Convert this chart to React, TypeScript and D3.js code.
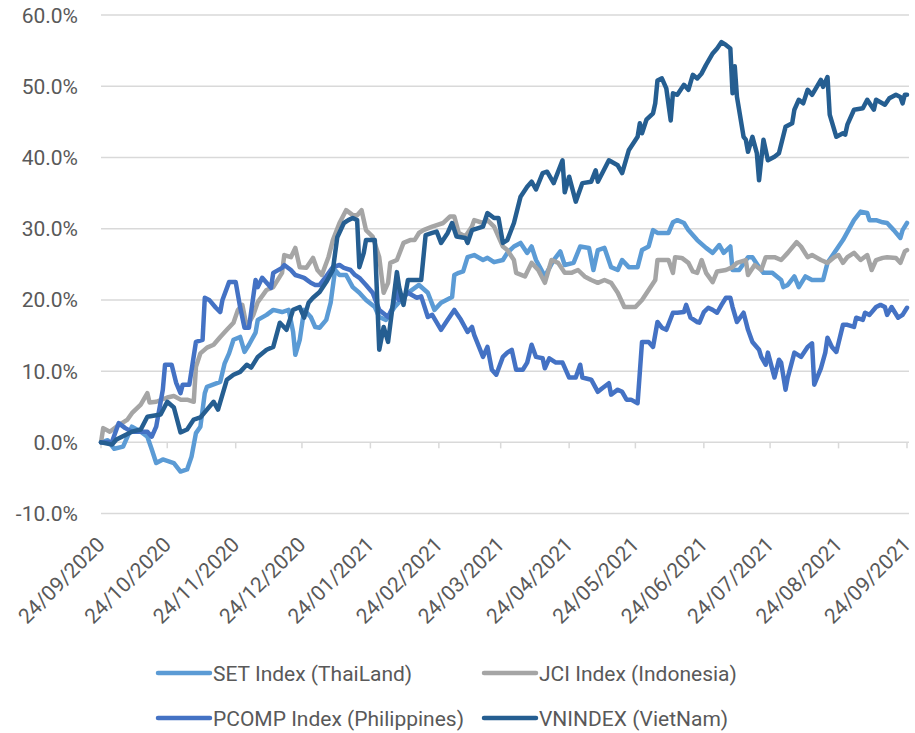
import React from 'react';
import * as d3 from 'd3';

// axis labels
const tickLabels = [
  '24/09/2020', '24/10/2020', '24/11/2020', '24/12/2020', '24/01/2021', '24/02/2021', '24/03/2021',
  '24/04/2021', '24/05/2021', '24/06/2021', '24/07/2021', '24/08/2021', '24/09/2021',
];
const yTicks = [-10, 0, 10, 20, 30, 40, 50, 60];

// days after 24/09/2020 and % change
const setDays = [0, 3, 6, 10, 14, 18, 21, 23, 25, 28, 33, 36, 39, 41, 43, 45, 47, 48, 54, 56, 58, 60, 63, 65, 67, 70, 71, 75, 78, 82, 85, 87, 88, 90, 92, 95, 97, 99, 102, 104, 106, 108, 111, 114, 117, 120, 124, 126, 129, 133, 139, 144, 148, 151, 154, 159, 160, 162, 164, 166, 169, 173, 175, 178, 182, 184, 187, 190, 193, 195, 197, 201, 205, 208, 210, 214, 217, 221, 223, 225, 228, 231, 234, 236, 239, 243, 245, 248, 250, 252, 257, 259, 261, 264, 266, 270, 274, 277, 280, 282, 285, 286, 289, 293, 295, 298, 300, 304, 308, 309, 311, 314, 316, 319, 322, 327, 329, 334, 336, 341, 344, 347, 348, 351, 354, 356, 359, 362, 363, 365];
const setValues = [0, 0.3, -0.9, -0.6, 2.2, 1.5, 0.8, -1.0, -2.9, -2.4, -2.9, -4.1, -3.8, -2.0, 1.3, 2.2, 6.9, 7.8, 8.5, 11.1, 12.5, 14.4, 14.8, 12.7, 13.7, 15.4, 17.2, 17.9, 18.6, 18.3, 18.6, 15.5, 12.3, 14.4, 18.6, 17.6, 16.2, 16.1, 17.2, 19.6, 24.2, 23.5, 23.5, 21.8, 21.0, 20.0, 19.0, 17.6, 17.2, 19.0, 21.0, 22.1, 21.0, 18.6, 19.6, 20.4, 23.5, 23.8, 24.0, 26.0, 26.3, 25.6, 25.9, 25.3, 25.6, 26.6, 27.5, 28.0, 26.6, 27.5, 25.6, 23.3, 25.6, 26.8, 24.9, 25.2, 27.5, 27.3, 24.2, 27.0, 27.3, 24.6, 24.2, 25.6, 24.6, 24.6, 27.0, 27.5, 29.8, 29.4, 29.4, 30.9, 31.2, 30.8, 29.8, 28.4, 27.3, 26.6, 27.7, 26.6, 27.5, 24.2, 24.2, 26.0, 26.0, 24.6, 23.8, 23.8, 22.8, 21.8, 22.1, 23.3, 21.8, 23.3, 22.8, 22.8, 25.2, 27.5, 28.4, 31.2, 32.4, 32.2, 31.2, 31.2, 30.9, 30.8, 29.8, 28.7, 29.8, 30.8];

const jciDays = [0, 1, 4, 7, 12, 14, 18, 21, 22, 25, 30, 33, 36, 39, 42, 43, 45, 48, 51, 54, 57, 60, 62, 64, 66, 69, 71, 75, 78, 82, 83, 86, 88, 90, 93, 96, 98, 100, 103, 105, 108, 111, 114, 116, 118, 120, 123, 126, 128, 130, 131, 134, 137, 140, 142, 144, 146, 150, 155, 158, 160, 162, 165, 168, 169, 173, 175, 178, 182, 184, 187, 188, 192, 195, 198, 201, 204, 207, 210, 213, 216, 219, 222, 225, 228, 231, 234, 237, 242, 245, 248, 251, 252, 257, 259, 260, 263, 266, 268, 270, 272, 274, 277, 279, 283, 286, 288, 292, 293, 296, 299, 301, 305, 308, 311, 315, 317, 320, 322, 326, 329, 332, 334, 336, 338, 341, 344, 347, 349, 351, 354, 356, 360, 362, 364, 365];
const jciValues = [0, 2.0, 1.5, 2.2, 3.2, 4.1, 5.3, 6.9, 5.6, 5.7, 6.3, 6.5, 6.0, 6.0, 5.7, 10.6, 12.5, 13.3, 13.7, 14.8, 15.8, 16.8, 18.6, 19.3, 16.2, 17.9, 19.7, 21.4, 21.8, 23.8, 26.3, 26.0, 27.3, 24.6, 24.5, 25.9, 24.2, 23.5, 26.0, 28.4, 30.8, 32.6, 31.9, 31.9, 32.6, 29.8, 28.9, 26.0, 21.0, 22.4, 25.2, 25.6, 28.0, 28.4, 28.4, 29.4, 29.8, 30.3, 30.8, 31.7, 31.7, 29.4, 28.9, 30.3, 31.2, 30.8, 31.2, 30.3, 27.5, 27.0, 25.6, 23.8, 23.3, 25.2, 24.2, 22.4, 25.6, 25.2, 23.8, 23.8, 24.2, 23.3, 22.8, 22.4, 22.8, 22.4, 21.0, 19.0, 19.0, 20.0, 21.4, 22.8, 25.6, 25.6, 23.8, 26.0, 25.9, 25.2, 24.0, 23.8, 25.6, 23.8, 22.5, 24.0, 24.2, 24.6, 25.2, 25.6, 23.5, 24.9, 24.2, 26.0, 26.0, 25.6, 26.6, 28.1, 27.5, 26.0, 26.3, 25.6, 25.2, 26.0, 26.3, 25.2, 26.0, 26.6, 25.6, 26.3, 24.2, 25.6, 25.9, 26.0, 25.9, 25.2, 26.8, 27.0];

const pcompDays = [0, 5, 8, 11, 14, 18, 21, 23, 25, 28, 29, 32, 34, 36, 37, 40, 43, 46, 47, 49, 52, 54, 55, 58, 61, 63, 65, 67, 70, 71, 73, 75, 77, 78, 82, 83, 86, 88, 90, 92, 95, 97, 99, 102, 105, 108, 110, 113, 115, 117, 120, 123, 126, 130, 132, 134, 135, 139, 143, 145, 148, 150, 154, 157, 160, 163, 166, 168, 169, 173, 175, 177, 179, 182, 184, 186, 188, 191, 193, 195, 197, 200, 201, 203, 206, 209, 212, 215, 217, 218, 222, 225, 227, 230, 231, 234, 236, 238, 240, 243, 244, 245, 248, 250, 252, 254, 256, 259, 261, 264, 265, 267, 270, 271, 273, 275, 277, 279, 281, 283, 285, 286, 288, 291, 293, 295, 298, 299, 301, 302, 305, 307, 308, 310, 311, 314, 317, 320, 322, 323, 326, 328, 329, 331, 333, 336, 338, 341, 342, 345, 346, 348, 351, 353, 355, 356, 358, 361, 363, 365];
const pcompValues = [0, 0.1, 2.7, 2.0, 1.5, 1.5, 1.5, 0.8, 2.2, 7.4, 10.9, 10.9, 8.4, 6.9, 8.1, 8.1, 14.1, 14.4, 20.3, 20.0, 18.9, 18.3, 20.0, 22.5, 22.5, 19.0, 16.1, 16.1, 22.8, 21.8, 23.1, 22.4, 21.7, 23.8, 24.5, 24.9, 24.2, 23.5, 23.3, 23.1, 22.4, 22.1, 22.1, 23.3, 24.6, 24.9, 24.5, 24.2, 23.5, 23.1, 22.1, 21.0, 18.6, 17.6, 18.9, 21.4, 20.0, 21.0, 20.3, 20.5, 17.6, 17.9, 15.8, 17.2, 18.6, 17.2, 15.5, 16.2, 15.1, 12.0, 13.4, 10.2, 9.5, 12.0, 12.6, 13.0, 10.2, 10.2, 11.2, 13.7, 12.0, 11.8, 10.4, 11.8, 11.2, 11.2, 9.1, 9.1, 10.9, 9.1, 8.8, 7.1, 7.6, 8.3, 6.7, 7.4, 7.1, 6.0, 6.0, 5.5, 9.8, 14.1, 14.1, 13.4, 16.9, 16.1, 15.8, 18.2, 18.2, 18.3, 19.3, 17.5, 16.9, 16.8, 18.3, 18.9, 18.6, 18.2, 19.3, 20.3, 20.3, 19.0, 16.9, 18.2, 15.8, 14.1, 13.0, 12.0, 10.9, 12.6, 9.1, 11.6, 11.2, 7.4, 9.1, 12.6, 12.0, 13.4, 13.9, 8.1, 10.4, 12.6, 14.7, 13.4, 12.7, 16.5, 16.5, 16.2, 17.5, 17.2, 18.2, 17.9, 19.0, 19.3, 19.0, 17.9, 19.0, 17.5, 17.9, 18.9];

const vnDays = [0, 5, 7, 14, 18, 21, 27, 30, 33, 36, 39, 42, 45, 48, 51, 53, 57, 60, 63, 66, 68, 71, 75, 78, 81, 84, 87, 90, 92, 94, 96, 99, 102, 105, 107, 110, 112, 114, 116, 117, 119, 120, 123, 124, 126, 128, 130, 134, 135, 137, 139, 145, 147, 150, 152, 154, 157, 159, 161, 165, 166, 168, 173, 175, 178, 180, 182, 184, 187, 190, 193, 195, 197, 200, 202, 205, 209, 210, 212, 215, 218, 222, 224, 225, 230, 234, 236, 239, 243, 244, 245, 247, 250, 251, 252, 254, 256, 258, 259, 261, 264, 266, 268, 270, 272, 274, 277, 279, 281, 283, 285, 286, 287, 288, 291, 292, 293, 295, 297, 298, 300, 302, 305, 307, 310, 313, 314, 316, 318, 320, 322, 326, 327, 329, 330, 333, 336, 337, 338, 341, 345, 347, 350, 351, 355, 357, 360, 362, 363, 364, 365];
const vnValues = [0, -0.3, 0.4, 1.5, 1.8, 3.6, 3.9, 5.7, 4.9, 1.4, 1.8, 3.2, 3.5, 4.6, 5.7, 4.6, 8.8, 9.5, 9.9, 10.9, 10.5, 12.0, 13.0, 13.4, 16.8, 15.8, 18.6, 19.0, 17.5, 19.6, 20.3, 21.1, 22.5, 24.2, 28.8, 30.8, 31.2, 31.5, 31.2, 24.6, 26.6, 28.4, 28.4, 28.4, 13.0, 16.2, 14.1, 23.9, 21.8, 19.3, 22.8, 22.8, 29.1, 29.4, 29.6, 28.0, 29.4, 30.8, 28.9, 28.7, 28.0, 29.8, 30.3, 32.2, 31.5, 31.5, 28.0, 28.4, 30.8, 34.5, 35.9, 36.6, 35.5, 37.8, 38.0, 36.4, 39.6, 35.1, 37.3, 33.8, 36.4, 36.6, 38.2, 36.6, 39.6, 38.9, 37.8, 41.0, 42.9, 44.8, 43.4, 45.3, 46.2, 47.6, 50.8, 51.1, 49.7, 45.2, 49.0, 48.8, 50.2, 49.5, 51.6, 51.1, 51.8, 53.0, 54.6, 55.3, 56.2, 55.8, 55.3, 49.0, 52.8, 48.5, 42.9, 42.5, 40.8, 42.9, 40.6, 36.8, 42.5, 39.6, 40.1, 40.6, 44.3, 44.8, 46.7, 48.1, 47.6, 49.5, 48.8, 50.9, 49.9, 51.3, 46.0, 42.9, 43.4, 43.2, 44.6, 46.7, 46.9, 48.1, 46.7, 48.1, 47.4, 48.3, 48.8, 48.5, 47.6, 48.8, 48.8];

const seriesNames = ['SET Index (ThaiLand)', 'JCI Index (Indonesia)', 'PCOMP Index (Philippines)', 'VNINDEX (VietNam)'];
const seriesColors = ['#5B9BD5', '#A5A5A5', '#4472C4', '#255E91'];

const font = 'Roboto, "Liberation Sans", sans-serif';
const textColor = '#595959';
const gridColor = '#D9D9D9';

export default function App() {
  const width = 915;
  const height = 733;
  const marginLeft = 101;
  const marginRight = 8;
  const marginTop = 15;
  const plotBottom = 513.6;

  const parse = d3.utcParse('%d/%m/%Y');
  const tickDates = tickLabels.map(t => parse(t) as Date);
  const start = tickDates[0];

  const x = d3.scaleUtc([start, tickDates[tickDates.length - 1]], [marginLeft, width - marginRight]);
  const y = d3.scaleLinear([-10, 60], [plotBottom, marginTop]);

  const series = [
    { days: setDays, values: setValues },
    { days: jciDays, values: jciValues },
    { days: pcompDays, values: pcompValues },
    { days: vnDays, values: vnValues },
  ].map((s, i) => ({
    name: seriesNames[i],
    color: seriesColors[i],
    points: s.days.map((d, j) => ({ date: d3.utcDay.offset(start, d), value: s.values[j] })),
  }));

  const line = d3.line<{ date: Date; value: number }>()
    .x(d => x(d.date))
    .y(d => y(d.value));

  const fmt = (v: number) => `${v.toFixed(1)}%`;
  const [x0, x1] = x.range();

  const legendCols = [158, 484];
  const legendRows = [673, 718];

  return (
    <svg width={width} height={height} style={{ position: 'absolute', left: 0, top: 0, background: '#fff' }}
      fontFamily={font}>
      {yTicks.map(t => (
        <g key={t}>
          <line x1={x0} x2={x1 + 2} y1={y(t)} y2={y(t)} stroke={gridColor} strokeWidth={1.5} />
          <text x={78} y={y(t)} dy="0.36em" textAnchor="end" fontSize={21} fill={textColor}>{fmt(t)}</text>
        </g>
      ))}
      {tickDates.map((d, i) => (
        <g key={tickLabels[i]}>
          <line x1={x(d)} x2={x(d)} y1={y(0)} y2={y(0) + 6} stroke={gridColor} strokeWidth={1.5} />
          <text transform={`translate(${x(d) + 5},${546}) rotate(-45)`} textAnchor="end" fontSize={21}
            fill={textColor}>{tickLabels[i]}</text>
        </g>
      ))}
      {series.map(s => (
        <path key={s.name} d={line(s.points) ?? ''} fill="none" stroke={s.color} strokeWidth={4.5}
          strokeLinejoin="round" strokeLinecap="round" />
      ))}
      {series.map((s, i) => {
        const lx = legendCols[i % 2];
        const ly = legendRows[Math.floor(i / 2)];
        return (
          <g key={`lg-${s.name}`}>
            <line x1={lx} x2={lx + 52} y1={ly} y2={ly} stroke={s.color} strokeWidth={4.5} strokeLinecap="round" />
            <text x={lx + 55} y={ly} dy="0.36em" fontSize={21} fill={textColor}>{s.name}</text>
          </g>
        );
      })}
    </svg>
  );
}
